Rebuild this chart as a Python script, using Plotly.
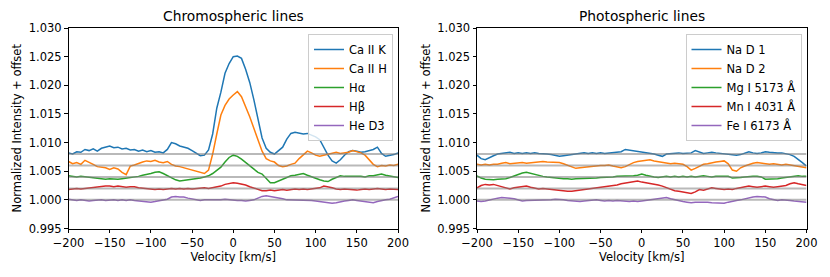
import plotly.graph_objects as go

# ---------------- data ----------------
velocity = list(range(-200, 205, 5))  # km/s grid (81 points)

chromo_names = ["Ca II K", "Ca II H", "Hα", "Hβ", "He D3"]
photo_names = ["Na D 1", "Na D 2", "Mg I 5173 Å", "Mn I 4031 Å", "Fe I 6173 Å"]
offsets = [0.008, 0.006, 0.004, 0.002, 0.000]
colors = ["#1f77b4", "#ff7f0e", "#2ca02c", "#d62728", "#9467bd"]

ca_k = [1.0082, 1.0080, 1.0084, 1.0083, 1.0088, 1.0086, 1.0089, 1.0085, 1.0090, 1.0092,
        1.0094, 1.0091, 1.0092, 1.0089, 1.0090, 1.0087, 1.0088, 1.0085, 1.0087, 1.0084,
        1.0086, 1.0083, 1.0084, 1.0082, 1.0088, 1.0100, 1.0098, 1.0094, 1.0092, 1.0090,
        1.0086, 1.0082, 1.0077, 1.0078, 1.0087, 1.0115, 1.0160, 1.0188, 1.0221, 1.0238,
        1.0250, 1.0251, 1.0247, 1.0228, 1.0205, 1.0175, 1.0142, 1.0108, 1.0090, 1.0083,
        1.0080, 1.0086, 1.0092, 1.0106, 1.0116, 1.0118, 1.0117, 1.0115, 1.0116, 1.0113,
        1.0110, 1.0105, 1.0092, 1.0078, 1.0068, 1.0064, 1.0070, 1.0078, 1.0084, 1.0086,
        1.0085, 1.0083, 1.0084, 1.0086, 1.0088, 1.0092, 1.0081, 1.0076, 1.0077, 1.0079,
        1.0082]
ca_h = [1.0067, 1.0063, 1.0065, 1.0062, 1.0069, 1.0066, 1.0062, 1.0058, 1.0057, 1.0056,
        1.0053, 1.0056, 1.0054, 1.0048, 1.0044, 1.0059, 1.0061, 1.0064, 1.0066, 1.0068,
        1.0067, 1.0069, 1.0066, 1.0065, 1.0067, 1.0062, 1.0059, 1.0058, 1.0056, 1.0054,
        1.0052, 1.0051, 1.0048, 1.0046, 1.0052, 1.0080, 1.0115, 1.0148, 1.0165, 1.0176,
        1.0183, 1.0189, 1.0180, 1.0163, 1.0145, 1.0125, 1.0104, 1.0085, 1.0072, 1.0068,
        1.0066, 1.0060, 1.0058, 1.0059, 1.0062, 1.0064, 1.0072, 1.0078, 1.0085, 1.0082,
        1.0078, 1.0076, 1.0078, 1.0080, 1.0082, 1.0083, 1.0081, 1.0082, 1.0083, 1.0086,
        1.0084, 1.0082, 1.0078, 1.0070, 1.0062, 1.0058, 1.0060, 1.0059, 1.0061, 1.0060,
        1.0062]
h_alpha = [1.0042, 1.0041, 1.0040, 1.0041, 1.0040, 1.0039, 1.0038, 1.0038, 1.0037, 1.0036,
           1.0037, 1.0036, 1.0036, 1.0037, 1.0038, 1.0039, 1.0039, 1.0041, 1.0043, 1.0044,
           1.0046, 1.0048, 1.0049, 1.0046, 1.0042, 1.0038, 1.0035, 1.0033, 1.0034, 1.0034,
           1.0035, 1.0036, 1.0038, 1.0040, 1.0042, 1.0046, 1.0051, 1.0057, 1.0066, 1.0074,
           1.0078, 1.0076, 1.0071, 1.0065, 1.0059, 1.0053, 1.0048, 1.0045, 1.0038, 1.0030,
           1.0030, 1.0033, 1.0036, 1.0039, 1.0042, 1.0043, 1.0045, 1.0046, 1.0043, 1.0040,
           1.0038, 1.0035, 1.0033, 1.0032, 1.0036, 1.0039, 1.0042, 1.0041, 1.0041, 1.0042,
           1.0041, 1.0041, 1.0040, 1.0042, 1.0042, 1.0044, 1.0045, 1.0043, 1.0042, 1.0040,
           1.0039]
h_beta = [1.0018, 1.0019, 1.0020, 1.0019, 1.0020, 1.0021, 1.0022, 1.0023, 1.0024, 1.0024,
          1.0024, 1.0023, 1.0024, 1.0023, 1.0022, 1.0023, 1.0023, 1.0021, 1.0020, 1.0019,
          1.0018, 1.0018, 1.0019, 1.0018, 1.0019, 1.0020, 1.0019, 1.0020, 1.0019, 1.0020,
          1.0019, 1.0020, 1.0020, 1.0021, 1.0020, 1.0021, 1.0022, 1.0024, 1.0027, 1.0029,
          1.0030, 1.0029, 1.0028, 1.0026, 1.0023, 1.0021, 1.0018, 1.0016, 1.0016, 1.0017,
          1.0016, 1.0017, 1.0018, 1.0017, 1.0018, 1.0019, 1.0018, 1.0019, 1.0018, 1.0019,
          1.0019, 1.0021, 1.0024, 1.0023, 1.0021, 1.0019, 1.0018, 1.0019, 1.0018, 1.0017,
          1.0017, 1.0018, 1.0019, 1.0018, 1.0019, 1.0020, 1.0019, 1.0018, 1.0019, 1.0018,
          1.0018]
he_d3 = [1.0001, 1.0000, 0.9999, 1.0000, 0.9999, 0.9998, 0.9999, 1.0000, 1.0000, 0.9999,
         1.0000, 1.0000, 0.9999, 1.0000, 0.9999, 1.0000, 0.9999, 0.9998, 0.9997, 0.9996,
         0.9996, 0.9997, 0.9998, 0.9999, 1.0001, 1.0005, 1.0006, 1.0005, 1.0005, 1.0003,
         1.0002, 1.0000, 0.9999, 1.0000, 1.0000, 0.9999, 1.0000, 1.0000, 1.0001, 1.0000,
         1.0000, 0.9999, 0.9999, 0.9998, 0.9999, 1.0000, 1.0003, 1.0006, 1.0007, 1.0006,
         1.0005, 1.0003, 1.0002, 1.0000, 1.0000, 0.9999, 1.0000, 1.0000, 0.9999, 0.9999,
         0.9998, 0.9997, 0.9995, 0.9994, 0.9994, 0.9995, 0.9997, 0.9998, 0.9999, 1.0000,
         0.9999, 0.9998, 0.9997, 0.9995, 0.9995, 0.9997, 0.9999, 1.0000, 1.0001, 1.0003,
         1.0006]

na_d1 = [1.0078, 1.0072, 1.0070, 1.0074, 1.0077, 1.0080, 1.0081, 1.0082, 1.0083, 1.0081,
         1.0082, 1.0081, 1.0082, 1.0081, 1.0082, 1.0081, 1.0081, 1.0080, 1.0079, 1.0077,
         1.0076, 1.0077, 1.0078, 1.0080, 1.0081, 1.0082, 1.0082, 1.0081, 1.0082, 1.0081,
         1.0082, 1.0081, 1.0082, 1.0082, 1.0083, 1.0084, 1.0088, 1.0087, 1.0086, 1.0085,
         1.0084, 1.0083, 1.0082, 1.0080, 1.0078, 1.0076, 1.0080, 1.0081, 1.0081, 1.0082,
         1.0081, 1.0082, 1.0082, 1.0086, 1.0083, 1.0081, 1.0082, 1.0083, 1.0082, 1.0081,
         1.0080, 1.0079, 1.0078, 1.0078, 1.0079, 1.0081, 1.0084, 1.0082, 1.0081, 1.0082,
         1.0084, 1.0083, 1.0082, 1.0082, 1.0082, 1.0081, 1.0079, 1.0076, 1.0071, 1.0065,
         1.0059]
na_d2 = [1.0062, 1.0061, 1.0062, 1.0061, 1.0062, 1.0062, 1.0064, 1.0065, 1.0063, 1.0064,
         1.0064, 1.0065, 1.0064, 1.0065, 1.0066, 1.0066, 1.0067, 1.0066, 1.0066, 1.0065,
         1.0065, 1.0063, 1.0060, 1.0057, 1.0055, 1.0056, 1.0057, 1.0058, 1.0058, 1.0059,
         1.0060, 1.0060, 1.0061, 1.0059, 1.0057, 1.0056, 1.0058, 1.0062, 1.0065, 1.0067,
         1.0068, 1.0070, 1.0070, 1.0068, 1.0067, 1.0066, 1.0065, 1.0063, 1.0064, 1.0063,
         1.0062, 1.0058, 1.0052, 1.0055, 1.0059, 1.0062, 1.0063, 1.0065, 1.0066, 1.0067,
         1.0068, 1.0063, 1.0052, 1.0050, 1.0056, 1.0059, 1.0062, 1.0064, 1.0065, 1.0064,
         1.0063, 1.0062, 1.0063, 1.0062, 1.0061, 1.0062, 1.0061, 1.0059, 1.0058, 1.0057,
         1.0056]
mg_i = [1.0042, 1.0038, 1.0036, 1.0035, 1.0035, 1.0036, 1.0036, 1.0037, 1.0039, 1.0042,
        1.0045, 1.0047, 1.0048, 1.0046, 1.0044, 1.0042, 1.0041, 1.0040, 1.0039, 1.0038,
        1.0038, 1.0037, 1.0037, 1.0036, 1.0037, 1.0037, 1.0038, 1.0038, 1.0037, 1.0038,
        1.0039, 1.0039, 1.0040, 1.0040, 1.0041, 1.0041, 1.0042, 1.0041, 1.0042, 1.0043,
        1.0045, 1.0043, 1.0041, 1.0040, 1.0039, 1.0040, 1.0041, 1.0040, 1.0041, 1.0040,
        1.0041, 1.0040, 1.0041, 1.0040, 1.0041, 1.0042, 1.0041, 1.0040, 1.0041, 1.0041,
        1.0042, 1.0041, 1.0038, 1.0038, 1.0039, 1.0040, 1.0041, 1.0041, 1.0041, 1.0040,
        1.0036, 1.0036, 1.0037, 1.0037, 1.0038, 1.0039, 1.0040, 1.0041, 1.0042, 1.0041,
        1.0041]
mn_i = [1.0021, 1.0025, 1.0027, 1.0026, 1.0027, 1.0025, 1.0022, 1.0020, 1.0019, 1.0021,
        1.0022, 1.0024, 1.0024, 1.0022, 1.0020, 1.0019, 1.0020, 1.0019, 1.0018, 1.0017,
        1.0017, 1.0016, 1.0015, 1.0015, 1.0016, 1.0017, 1.0018, 1.0019, 1.0020, 1.0020,
        1.0021, 1.0022, 1.0023, 1.0024, 1.0026, 1.0028, 1.0029, 1.0031, 1.0032, 1.0033,
        1.0031, 1.0030, 1.0029, 1.0028, 1.0026, 1.0024, 1.0021, 1.0018, 1.0016, 1.0015,
        1.0014, 1.0013, 1.0011, 1.0014, 1.0018, 1.0017, 1.0019, 1.0021, 1.0020, 1.0019,
        1.0018, 1.0019, 1.0018, 1.0020, 1.0021, 1.0022, 1.0024, 1.0023, 1.0022, 1.0023,
        1.0024, 1.0023, 1.0022, 1.0023, 1.0024, 1.0025, 1.0028, 1.0030, 1.0028, 1.0026,
        1.0025]
fe_i = [0.9998, 0.9997, 0.9998, 1.0000, 1.0002, 1.0003, 1.0004, 1.0004, 1.0003, 1.0002,
        1.0000, 0.9998, 0.9999, 0.9999, 1.0000, 0.9999, 1.0000, 1.0000, 1.0000, 1.0001,
        1.0001, 1.0000, 0.9999, 0.9998, 0.9998, 0.9997, 0.9998, 0.9999, 1.0000, 1.0000,
        0.9999, 0.9998, 0.9999, 0.9998, 0.9999, 0.9998, 0.9998, 0.9997, 0.9998, 0.9997,
        0.9998, 0.9999, 1.0000, 1.0001, 1.0002, 1.0003, 1.0004, 1.0002, 1.0000, 0.9998,
        0.9997, 0.9996, 0.9995, 0.9996, 0.9996, 0.9997, 0.9996, 0.9995, 0.9995, 0.9994,
        0.9994, 0.9996, 0.9998, 0.9999, 1.0000, 1.0002, 1.0004, 1.0005, 1.0006, 1.0006,
        1.0005, 1.0002, 1.0000, 0.9999, 1.0000, 1.0000, 0.9999, 0.9998, 0.9997, 0.9997,
        0.9996]

chromo_series = [ca_k, ca_h, h_alpha, h_beta, he_d3]
photo_series = [na_d1, na_d2, mg_i, mn_i, fe_i]

x_ticks = [-200, -150, -100, -50, 0, 50, 100, 150, 200]
y_ticks = [0.995, 1.000, 1.005, 1.010, 1.015, 1.020, 1.025, 1.030]

# ---------------- figure ----------------
W, H = 830, 277
FONT = "DejaVu Sans"
FS = 11.5
fig = go.Figure()

panels = [
    ("x", "y", "legend", chromo_names, chromo_series),
    ("x2", "y2", "legend2", photo_names, photo_series),
]
for xa, ya, lg, names, series in panels:
    for name, vals, col in zip(names, series, colors):
        fig.add_trace(go.Scatter(x=velocity, y=vals, mode="lines", name=name,
                                 line=dict(color=col, width=1.5), xaxis=xa, yaxis=ya,
                                 legend=lg))
    for off in offsets:
        fig.add_trace(go.Scatter(x=[velocity[0], velocity[-1]], y=[1 + off, 1 + off],
                                 mode="lines", showlegend=False, hoverinfo="skip",
                                 line=dict(color="rgba(128,128,128,0.55)", width=2),
                                 xaxis=xa, yaxis=ya))

def px_x(p):
    return p / W

def px_y(p):
    return 1 - p / H

left_dom = [px_x(68.5), px_x(398)]
right_dom = [px_x(477), px_x(806.5)]
y_dom = [px_y(228.5), px_y(28)]

axis_common = dict(showline=True, linecolor="black", linewidth=1, mirror=True,
                   ticks="outside", ticklen=3.5, tickwidth=0.8, tickcolor="black",
                   showgrid=False, zeroline=False, automargin=False,
                   tickfont=dict(family=FONT, size=FS, color="black"))

xaxis_common = dict(axis_common, range=[-200, 200], tickvals=x_ticks,
                    title=dict(text="Velocity [km/s]", font=dict(family=FONT, size=FS, color="black"),
                               standoff=2))
yaxis_common = dict(axis_common, range=[0.995, 1.030], tickvals=y_ticks, tickformat=".3f",
                    title=dict(text="Normalized Intensity + offset",
                               font=dict(family=FONT, size=FS, color="black"), standoff=4))

legend_common = dict(xanchor="right", yanchor="top",
                     bgcolor="rgba(255,255,255,0.8)", bordercolor="#cccccc", borderwidth=1,
                     font=dict(family=FONT, size=FS, color="black"), tracegroupgap=0,
                     itemwidth=30)

fig.update_layout(
    width=W, height=H,
    margin=dict(l=0, r=0, t=0, b=0),
    paper_bgcolor="white", plot_bgcolor="white",
    showlegend=True,
    font=dict(family=FONT, size=FS, color="black"),
    xaxis=dict(xaxis_common, domain=left_dom, anchor="y"),
    yaxis=dict(yaxis_common, domain=y_dom, anchor="x"),
    xaxis2=dict(xaxis_common, domain=right_dom, anchor="y2"),
    yaxis2=dict(yaxis_common, domain=y_dom, anchor="x2"),
    legend=dict(legend_common, x=px_x(393), y=px_y(34)),
    legend2=dict(legend_common, x=px_x(801.5), y=px_y(34)),
    annotations=[
        dict(text="Chromospheric lines", x=(left_dom[0] + left_dom[1]) / 2, y=y_dom[1],
             xref="paper", yref="paper", xanchor="center", yanchor="bottom", yshift=2,
             showarrow=False, font=dict(family=FONT, size=13.8, color="black")),
        dict(text="Photospheric lines", x=(right_dom[0] + right_dom[1]) / 2, y=y_dom[1],
             xref="paper", yref="paper", xanchor="center", yanchor="bottom", yshift=2,
             showarrow=False, font=dict(family=FONT, size=13.8, color="black")),
    ],
)

fig.write_html("out.html", config={"displayModeBar": False},
               post_script="document.body.style.margin='0';document.body.style.overflow='hidden';")
